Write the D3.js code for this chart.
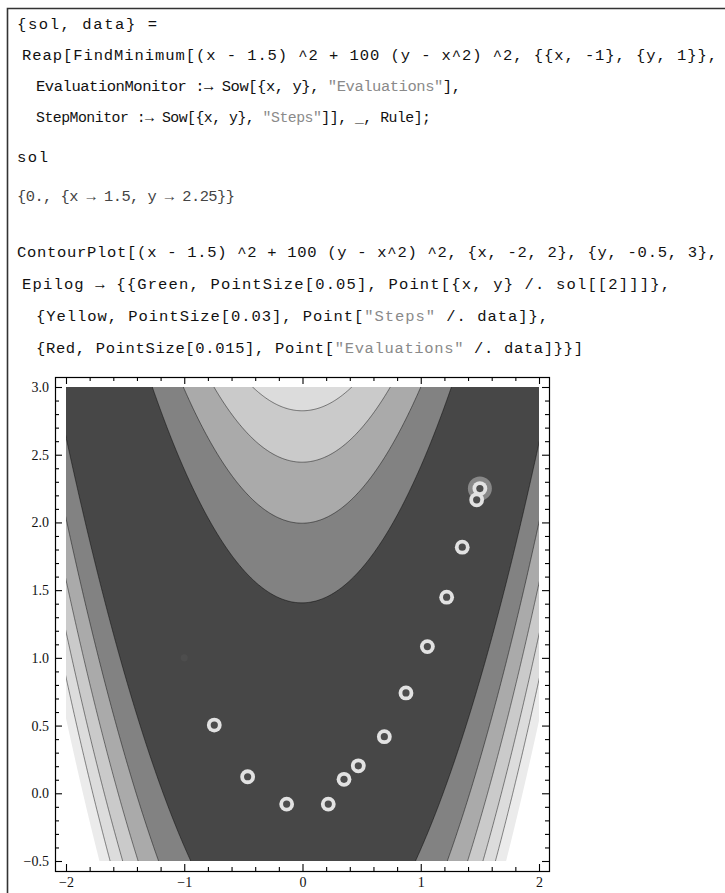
<!DOCTYPE html>
<html>
<head>
<meta charset="utf-8">
<script src="https://cdn.jsdelivr.net/npm/d3@7"></script>
<style>
  body { margin: 0; background: #fff; }
  svg { display: block; }
  .code { font-family: "Liberation Mono", monospace; font-size: 15.5px; fill: #111; }
  .code .str { fill: #8a8a8a; }
  .code.out { fill: #444; }
  .axis text { font-family: "Liberation Serif", serif; font-size: 14px; fill: #111; }
  .axis line { stroke: #000; }
</style>
</head>
<body>
<script>
// notebook text, one entry per line
const codeLines = [
  '{sol, data} =',
  'Reap[FindMinimum[(x - 1.5) ^2 + 100 (y - x^2) ^2, {{x, -1}, {y, 1}},',
  'EvaluationMonitor :\u2192 Sow[{x, y}, "Evaluations"],',
  'StepMonitor :\u2192 Sow[{x, y}, "Steps"]], _, Rule];',
  'sol',
  '{0., {x \u2192 1.5, y \u2192 2.25}}',
  'ContourPlot[(x - 1.5) ^2 + 100 (y - x^2) ^2, {x, -2, 2}, {y, -0.5, 3},',
  'Epilog \u2192 {{Green, PointSize[0.05], Point[{x, y} /. sol[[2]]]},',
  '{Yellow, PointSize[0.03], Point["Steps" /. data]},',
  '{Red, PointSize[0.015], Point["Evaluations" /. data]}}]'
]

// contour levels of (x - 1.5)^2 + 100 (y - x^2)^2, values above the last are left blank
const contourLevels = [200, 400, 600, 800, 1000]
const clipLevel = 1200

// FindMinimum steps and the extra evaluation at the start point
const stepX = [-0.746, -0.464, -0.134, 0.218, 0.351, 0.472, 0.692, 0.875, 1.056, 1.219, 1.351, 1.473, 1.5]
const stepY = [0.504, 0.122, -0.080, -0.080, 0.103, 0.203, 0.418, 0.741, 1.083, 1.448, 1.817, 2.167, 2.25]
const startPoint = [-1, 1]
const solution = [1.5, 2.25]

const xMajor = [-2, -1, 0, 1, 2]
const yMajor = [-0.5, 0, 0.5, 1, 1.5, 2, 2.5, 3]

const W = 725
const H = 893

const svg = d3.select('body').append('svg')
  .attr('width', W)
  .attr('height', H)

// notebook frame
svg.append('path')
  .attr('d', `M7.5,${H} V8.5 H${W}`)
  .attr('fill', 'none')
  .attr('stroke', '#333')
  .attr('stroke-width', 1.6)

// code lines: x start, baseline, width
const lineLayout = [
  [17, 29, 140], [22, 60, 695], [36, 91, 425], [36, 122, 395],
  [17, 162, 31], [17, 201, 218],
  [17, 257, 700], [22, 289, 648], [36, 321, 512], [36, 353, 547]
]

codeLines.forEach((s, i) => {
  const [lx, ly, lw] = lineLayout[i]
  const t = svg.append('text')
    .attr('class', i === 5 ? 'code out' : 'code')
    .attr('x', lx)
    .attr('y', ly)
    .attr('xml:space', 'preserve')
  s.split(/("[^"]*")/).filter(p => p.length).forEach(p => {
    t.append('tspan')
      .attr('class', p[0] === '"' ? 'str' : null)
      .text(p)
  })
  // only shrink lines that would get badly squeezed, stretch the rest
  const natural = t.node().getComputedTextLength()
  if (natural > lw * 1.06) t.style('font-size', (15.5 * lw * 1.06 / natural) + 'px')
  t.attr('textLength', lw).attr('lengthAdjust', 'spacing')
})

// plot
const frame = { x0: 55, y0: 377, x1: 549, y1: 871 }
const x = d3.scaleLinear().domain([-2, 2]).range([66, 539])
const y = d3.scaleLinear().domain([-0.5, 3]).range([861, 387])

const f = (a, b) => (a - 1.5) ** 2 + 100 * (b - a * a) ** 2

// sample a slightly larger grid so the grid border falls outside the clip
const step = 0.01
const gx0 = -2.2
const gy0 = -0.7
const nx = 441
const ny = 391
const values = new Float64Array(nx * ny)
for (let j = 0; j < ny; j++) {
  for (let i = 0; i < nx; i++) {
    values[j * nx + i] = f(gx0 + i * step, gy0 + j * step)
  }
}

const project = d3.geoTransform({
  point: function (gx, gy) {
    this.stream.point(x(gx0 + (gx - 0.5) * step), y(gy0 + (gy - 0.5) * step))
  }
})
const path = d3.geoPath(project)

const contours = d3.contours().size([nx, ny]).thresholds(contourLevels.concat([clipLevel]))(values)

svg.append('clipPath').attr('id', 'plotclip')
  .append('rect')
  .attr('x', x(-2))
  .attr('y', y(3))
  .attr('width', x(2) - x(-2))
  .attr('height', y(-0.5) - y(3))

const bandFill = d3.scaleOrdinal()
  .domain(contourLevels.concat([clipLevel]))
  .range(['#828282', '#aaaaaa', '#cacaca', '#dcdcdc', '#ebebeb', '#ffffff'])

const plot = svg.append('g').attr('clip-path', 'url(#plotclip)')

plot.append('rect')
  .attr('x', x(-2))
  .attr('y', y(3))
  .attr('width', x(2) - x(-2))
  .attr('height', y(-0.5) - y(3))
  .attr('fill', '#474747')

plot.selectAll('path.band')
  .data(contours)
  .enter()
  .append('path')
  .attr('class', 'band')
  .attr('d', path)
  .attr('fill', d => bandFill(d.value))

plot.selectAll('path.iso')
  .data(contours.filter(d => d.value < clipLevel))
  .enter()
  .append('path')
  .attr('class', 'iso')
  .attr('d', path)
  .attr('fill', 'none')
  .attr('stroke', 'rgba(0,0,0,0.45)')
  .attr('stroke-width', 1)

// frame
svg.append('rect')
  .attr('x', frame.x0 + 0.5)
  .attr('y', frame.y0 + 0.5)
  .attr('width', frame.x1 - frame.x0)
  .attr('height', frame.y1 - frame.y0)
  .attr('fill', 'none')
  .attr('stroke', '#000')
  .attr('stroke-width', 1.2)

// ticks
function addAxis (axisFn, scale, tx, ty, vals, size, labels) {
  const a = axisFn(scale).tickValues(vals).tickSize(-size).tickPadding(labels ? 6 : 0)
  if (labels) a.tickFormat(labels)
  else a.tickFormat('')
  const g = svg.append('g')
    .attr('class', 'axis')
    .attr('transform', `translate(${tx},${ty})`)
    .call(a)
  g.select('.domain').remove()
  return g
}

const xMinor = x.ticks(20).filter(v => !xMajor.includes(v))
const yMinor = y.ticks(35).filter(v => !yMajor.some(m => Math.abs(m - v) < 1e-9))

addAxis(d3.axisBottom, x, 0, frame.y1, xMajor, 7, d3.format('d'))
addAxis(d3.axisBottom, x, 0, frame.y1, xMinor, 4)
addAxis(d3.axisTop, x, 0, frame.y0, xMajor, 7)
addAxis(d3.axisTop, x, 0, frame.y0, xMinor, 4)
addAxis(d3.axisLeft, y, frame.x0, 0, yMajor, 7, d3.format('.1f'))
addAxis(d3.axisLeft, y, frame.x0, 0, yMinor, 4)
addAxis(d3.axisRight, y, frame.x1, 0, yMajor, 7)
addAxis(d3.axisRight, y, frame.x1, 0, yMinor, 4)

svg.selectAll('.axis line').attr('stroke-width', 1.1)

// epilog points
const steps = stepX.map((v, i) => [v, stepY[i]])
const evaluations = [startPoint].concat(steps)

svg.append('circle')
  .attr('cx', x(solution[0]))
  .attr('cy', y(solution[1]))
  .attr('r', 12)
  .attr('fill', '#888888')

svg.selectAll('circle.step')
  .data(steps)
  .enter()
  .append('circle')
  .attr('class', 'step')
  .attr('cx', d => x(d[0]))
  .attr('cy', d => y(d[1]))
  .attr('r', 7.4)
  .attr('fill', '#e2e2e2')

svg.selectAll('circle.eval')
  .data(evaluations)
  .enter()
  .append('circle')
  .attr('class', 'eval')
  .attr('cx', d => x(d[0]))
  .attr('cy', d => y(d[1]))
  .attr('r', 3.6)
  .attr('fill', '#4d4d4d')
</script>
</body>
</html>
